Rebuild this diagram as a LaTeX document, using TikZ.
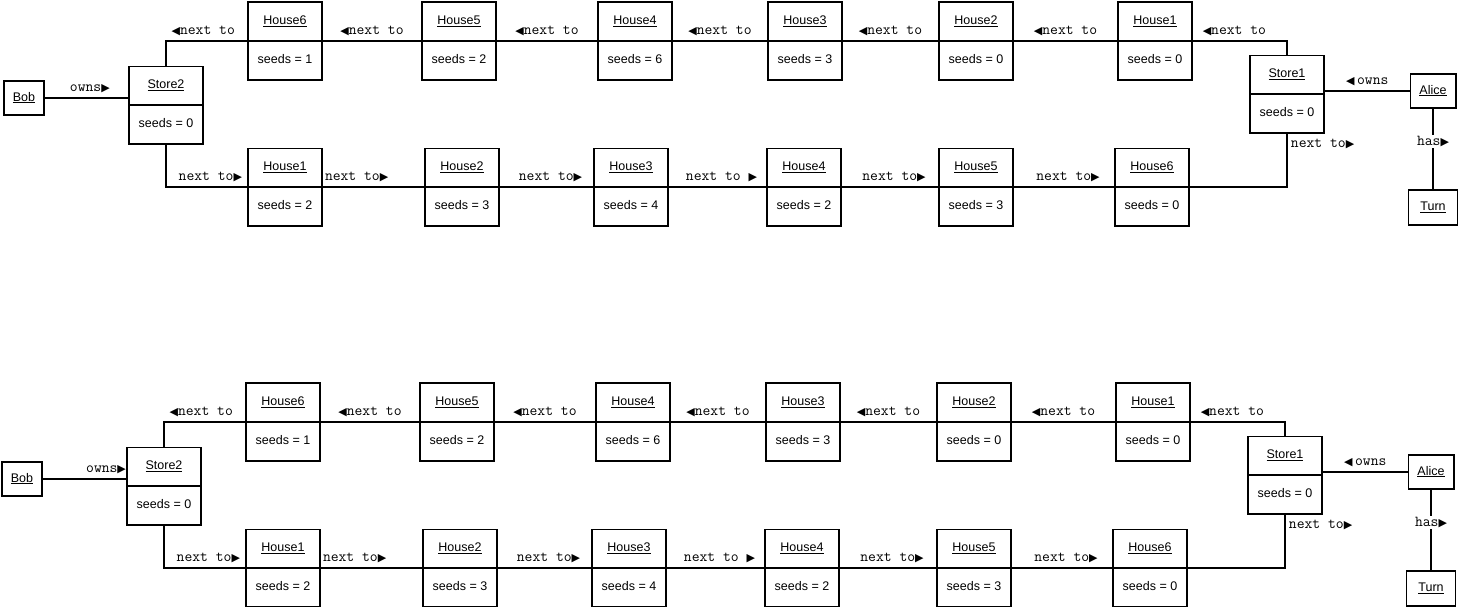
\documentclass[tikz,border=0pt]{standalone}
\usepackage{fontspec}
\setmainfont{Liberation Sans}
\newfontfamily\symfont{DejaVu Sans}
\usetikzlibrary{shapes.multipart}
\newcommand\rtri{{\symfont\fontsize{11}{8}\selectfont ▶}}
\newcommand\ltri{{\symfont\fontsize{11}{8}\selectfont ◀}}
\tikzset{
  classbox/.style = {rectangle split, rectangle split parts=2,
                     draw, line width=1.9pt, fill=white, anchor=north,
                     minimum width=74.2pt, inner ysep=10.95pt,
                     font=\fontsize{12.5}{15}\selectfont},
  objbox/.style   = {rectangle, draw, line width=1.9pt, fill=white,
                     minimum height=34.7pt, inner xsep=9pt,
                     font=\fontsize{12.5}{15}\selectfont},
  link/.style     = {draw, line width=1.9pt},
  lbl/.style      = {font=\ttfamily\fontsize{15.2}{15}\selectfont, inner sep=1pt}
}

\begin{document}
\begin{tikzpicture}
  [
    x = 1pt,
    y = -1pt
  ]
 \useasboundingbox (0,0) rectangle (1459,606);
 \foreach \d/\dx/\dy/\op in {t/0/0/0.54, b/-2/381/0.76} {
  \begin{scope}[shift={(\dx,\dy)}]
   \node [objbox] (\d-bob) at (24,98) {\strut\underline{Bob}};
   \node [classbox] (\d-s2) at (166,65.5) {\strut\underline{Store2}\nodepart{two}\strut seeds = 0};
   \node [classbox] (\d-s1) at (1287,54.5) {\strut\underline{Store1}\nodepart{two}\strut seeds = 0};
   \node [objbox] (\d-alice) at (1433,91) {\strut\underline{Alice}};
   \node [objbox, minimum width=49pt] (\d-turn) at (1433,207.5) {\strut\underline{Turn}};
   % upper row
   \node [classbox] (\d-h6) at (285,1) {\strut\underline{House6}\nodepart{two}\strut seeds = 1};
   \node [classbox] (\d-h5) at (459,1) {\strut\underline{House5}\nodepart{two}\strut seeds = 2};
   \node [classbox] (\d-h4) at (635,1) {\strut\underline{House4}\nodepart{two}\strut seeds = 6};
   \node [classbox] (\d-h3) at (805,1) {\strut\underline{House3}\nodepart{two}\strut seeds = 3};
   \node [classbox] (\d-h2) at (976,1) {\strut\underline{House2}\nodepart{two}\strut seeds = 0};
   \node [classbox] (\d-h1) at (1155,1) {\strut\underline{House1}\nodepart{two}\strut seeds = 0};
   % lower row
   \node [classbox] (\d-b1) at (285,147.5) {\strut\underline{House1}\nodepart{two}\strut seeds = 2};
   \node [classbox] (\d-b2) at (462,147.5) {\strut\underline{House2}\nodepart{two}\strut seeds = 3};
   \node [classbox] (\d-b3) at (631,147.5) {\strut\underline{House3}\nodepart{two}\strut seeds = 4};
   \node [classbox] (\d-b4) at (804,147.5) {\strut\underline{House4}\nodepart{two}\strut seeds = 2};
   \node [classbox] (\d-b5) at (976,147.5) {\strut\underline{House5}\nodepart{two}\strut seeds = 3};
   \node [classbox] (\d-b6) at (1152,147.5) {\strut\underline{House6}\nodepart{two}\strut seeds = 0};

   \draw [link] (\d-bob.east) -- node [lbl, above=3pt, pos=\op] {owns\rtri} (\d-bob.east -| \d-s2.west);
   \draw [link] (\d-alice.west) -- node [lbl, above=3pt] {\ltri\,owns} (\d-alice.west -| \d-s1.east);
   \draw [link] (\d-alice.south) -- node [lbl, fill=white, pos=0.4] {has\rtri} (\d-turn.north);

   \draw [link] (\d-s2.north) |- node [lbl, above=3pt, pos=0.73] {\ltri next to} (\d-h6.text split west);
   \draw [link] (\d-h6.text split east) -- node [lbl, above=3pt] {\ltri next to} (\d-h5.text split west);
   \draw [link] (\d-h5.text split east) -- node [lbl, above=3pt] {\ltri next to} (\d-h4.text split west);
   \draw [link] (\d-h4.text split east) -- node [lbl, above=3pt] {\ltri next to} (\d-h3.text split west);
   \draw [link] (\d-h3.text split east) -- node [lbl, above=3pt] {\ltri next to} (\d-h2.text split west);
   \draw [link] (\d-h2.text split east) -- node [lbl, above=3pt] {\ltri next to} (\d-h1.text split west);
   \draw [link] (\d-h1.text split east) -| node [lbl, above=3pt, pos=0.22] {\ltri next to} (\d-s1.north);

   \draw [link] (\d-s2.south) |- node [lbl, pos=1, anchor=south east, xshift=-3pt, yshift=3pt] {next to\rtri} (\d-b1.text split west);
   \draw [link] (\d-b1.text split east) -- node [lbl, pos=0, anchor=south west, yshift=3pt] {next to\rtri} (\d-b2.text split west);
   \draw [link] (\d-b2.text split east) -- node [lbl, above=3pt, xshift=4pt] {next to\rtri} (\d-b3.text split west);
   \draw [link] (\d-b3.text split east) -- node [lbl, above=3pt, xshift=4pt] {next to \rtri} (\d-b4.text split west);
   \draw [link] (\d-b4.text split east) -- node [lbl, above=3pt, xshift=4pt] {next to\rtri} (\d-b5.text split west);
   \draw [link] (\d-b5.text split east) -- node [lbl, above=3pt, xshift=4pt] {next to\rtri} (\d-b6.text split west);
   \draw [link] (\d-s1.south) |- node [lbl, pos=0, anchor=north west, xshift=2pt, yshift=-3pt] {next to\rtri} (\d-b6.text split east);
  \end{scope}
 }
\end{tikzpicture}
\end{document}
